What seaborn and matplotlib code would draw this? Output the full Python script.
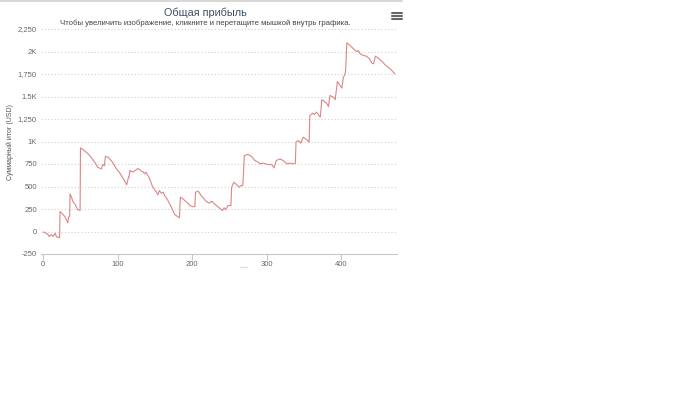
import matplotlib
matplotlib.use("Agg")
import matplotlib.pyplot as plt
import numpy as np
import pandas as pd
import seaborn as sns
from matplotlib.lines import Line2D

# Cumulative total (trade number, USD)
trade_no = [
    0, 3, 6, 8, 11, 13, 16, 18, 22, 22.5, 26, 29, 31, 33, 34, 35.5, 36, 38, 40,
    43, 46, 49.5, 50, 55, 60, 66, 70, 73, 78, 80, 82, 83.5, 87, 93, 98, 102,
    109, 112, 114.5, 115, 116.5, 118, 120, 124, 127, 129, 131.5, 134, 136, 138,
    143, 147, 152, 154, 156, 158.5, 161, 163, 167.5, 172, 176.5, 181, 183, 184,
    187.6, 194, 197, 201, 203.6, 204.5, 208, 212, 219, 223, 226, 230, 237,
    240.6, 243, 245, 248, 252, 253, 256, 259.5, 263, 266, 268, 270, 275, 280,
    284, 288.6, 291, 295, 302, 306.6, 310, 313, 318, 322, 327, 331, 336, 338.5,
    339.4, 342.5, 345.7, 349, 354, 357, 358, 362, 364, 367, 372, 374, 376, 381,
    383, 385, 389.6, 392, 395, 398.7, 401, 403, 405, 406, 407.6, 412, 417.5,
    421, 423, 425.6, 430, 434, 438, 441, 443.5, 446, 450, 455, 459, 466, 472,
]
total_usd = [
    -5, -15, -30, -55, -35, -55, -20, -60, -68, 222, 195, 165, 130, 95, 160,
    170, 418, 380, 330, 300, 245, 233, 930, 900, 865, 805, 760, 715, 695, 745,
    730, 835, 826, 770, 700, 659, 567, 519, 604, 600, 680, 670, 660, 680, 700,
    690, 672, 663, 641, 659, 585, 493, 437, 407, 456, 426, 437, 400, 344, 270,
    189, 162, 152, 381, 363, 315, 289, 275, 278, 437, 448, 400, 333, 315, 337,
    307, 259, 233, 263, 241, 289, 289, 493, 548, 522, 493, 511, 511, 844, 856,
    833, 789, 770, 752, 759, 744, 744, 707, 789, 807, 789, 752, 759, 752, 759,
    993, 1011, 982, 1048, 1018, 993, 1289, 1315, 1300, 1326, 1270, 1463, 1456,
    1419, 1389, 1511, 1493, 1465, 1667, 1622, 1593, 1715, 1741, 1789, 2096,
    2067, 2022, 2000, 2011, 1974, 1956, 1948, 1919, 1874, 1863, 1948, 1926,
    1889, 1852, 1807, 1752,
]

y_ticks = [-250, 0, 250, 500, 750, 1000, 1250, 1500, 1750, 2000, 2250]
y_tick_labels = ["-250", "0", "250", "500", "750", "1K", "1,250", "1.5K",
                 "1,750", "2K", "2,250"]
x_ticks = [0, 100, 200, 300, 400]

title = "Общая прибыль"
subtitle = "Чтобы увеличить изображение, кликните и перетащите мышкой внутрь графика."
y_label = "Суммарный итог (USD)"

sns.set_theme(style="white")
plt.rcParams["font.family"] = ["Liberation Sans", "DejaVu Sans"]

W, H = 700, 394
fig = plt.figure(figsize=(W / 100, H / 100), dpi=100)
fig.patch.set_facecolor("white")

# plot area in pixels: x 41..397, y 29..254
ax = fig.add_axes([41 / W, 1 - 254 / H, (397 - 41) / W, (254 - 29) / H])

df = pd.DataFrame({"trade": trade_no, "total": total_usd})
sns.lineplot(data=df, x="trade", y="total", ax=ax, color="#db8686",
             linewidth=0.8, estimator=None, sort=False)

ax.set_xlim(-3, 475)
ax.set_ylim(-250, 2250)
ax.set_yticks(y_ticks)
ax.set_yticklabels(y_tick_labels)
ax.set_xticks(x_ticks)
ax.set_xlabel("")
ax.set_ylabel(y_label, fontsize=5, color="#555555", labelpad=3)

for v in y_ticks:
    ax.axhline(v, color="#d0d0d0", linewidth=0.8, linestyle=(0, (1, 2)),
               zorder=0)

for side in ["top", "right", "left"]:
    ax.spines[side].set_visible(False)
ax.spines["bottom"].set_color("#c8c8c8")
ax.spines["bottom"].set_linewidth(0.8)

ax.tick_params(axis="y", length=0, labelsize=5.5, labelcolor="#666666", pad=3)
ax.tick_params(axis="x", length=4, width=0.8, color="#c8c8c8", labelsize=5.5,
               labelcolor="#666666", pad=1, bottom=True)

fig.text(205 / W, 1 - 13 / H, title, ha="center", va="center", fontsize=7.8,
         color="#3d4f61")
fig.text(205 / W, 1 - 23.5 / H, subtitle, ha="center", va="center",
         fontsize=5.6, color="#444444")

# context menu icon
for yy in (12.5, 15.5, 18.5):
    fig.add_artist(Line2D([392 / W, 402 / W], [1 - yy / H, 1 - yy / H],
                          color="#666666", linewidth=1.5))
# top border and small axis-title stub
fig.add_artist(Line2D([0, 402 / W], [1 - 0.8 / H, 1 - 0.8 / H],
                      color="#d0d0d0", linewidth=1.2))
fig.add_artist(Line2D([240 / W, 247 / W], [1 - 267 / H, 1 - 267 / H],
                      color="#dddddd", linewidth=1.0))

fig.savefig("out.png", dpi=100)
plt.close(fig)
